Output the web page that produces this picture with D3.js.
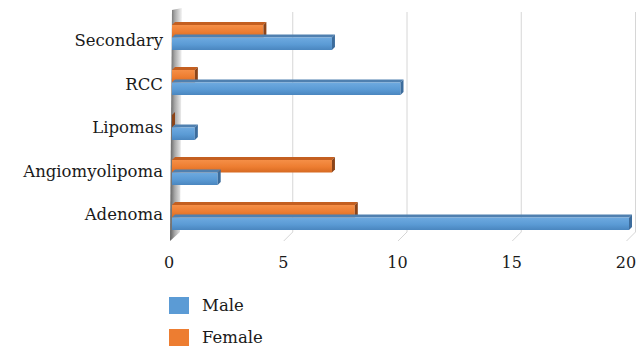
<!DOCTYPE html>
<html>
<head>
<meta charset="utf-8">
<script src="https://cdn.jsdelivr.net/npm/d3@7/dist/d3.min.js"></script>
<style>
  html, body { margin: 0; padding: 0; background: #fff; }
  svg { display: block; }
</style>
</head>
<body>
<svg id="chart" width="643" height="346"></svg>
<script>
// Tumour types, top to bottom as listed on the axis
const categories = ["Secondary", "RCC", "Lipomas", "Angiomyolipoma", "Adenoma"];
const seriesNames = ["Female", "Male"];
const maleValues = [7, 10, 1, 2, 20];
const femaleValues = [4, 1, 0, 7, 8];
const tickValues = [0, 5, 10, 15, 20];
const legendItems = ["Male", "Female"];

const serif = "'DejaVu Serif', serif";

const colors = {
  Male: { front: ["#6eaae0", "#5b9bd5", "#4a86bf"], top: "#4f80b0", side: "#3c6c9c", swatch: "#5b9bd5" },
  Female: { front: ["#f58f47", "#ed7d31", "#d66a22"], top: "#c45f20", side: "#8c4418", swatch: "#ed7d31" }
};

const rows = categories.map((c, i) => ({ category: c, Male: maleValues[i], Female: femaleValues[i] }));

const svg = d3.select("#chart");
const defs = svg.append("defs");

// 3D look: depth offset of the bars and the back wall
const depth = 3;
const backDx = 6.5, backTop = 12, backBottom = 232, floorDx = -9, floorDy = 9;

const x = d3.scaleLinear().domain([0, 20]).range([172, 629]);
const y = d3.scaleBand().domain(categories).range([15, 240]);
const inner = d3.scaleBand().domain(seriesNames).range([y.bandwidth() / 2 - 12.5, y.bandwidth() / 2 + 12.5]);
const labelY = d3.scalePoint().domain(categories).range([46, 220]);

// gradients for the bar fronts
seriesNames.forEach(s => {
  const g = defs.append("linearGradient").attr("id", "grad-" + s).attr("x1", 0).attr("y1", 0).attr("x2", 0).attr("y2", 1);
  g.append("stop").attr("offset", "0%").attr("stop-color", colors[s].front[0]);
  g.append("stop").attr("offset", "55%").attr("stop-color", colors[s].front[1]);
  g.append("stop").attr("offset", "100%").attr("stop-color", colors[s].front[2]);
});
const wallGrad = defs.append("linearGradient").attr("id", "wall").attr("x1", 0).attr("y1", 0).attr("x2", 1).attr("y2", 0);
wallGrad.append("stop").attr("offset", "0%").attr("stop-color", "#5e5e5e");
wallGrad.append("stop").attr("offset", "40%").attr("stop-color", "#a8a8a8");
wallGrad.append("stop").attr("offset", "100%").attr("stop-color", "#f4f4f4");

// back-wall gridlines with their slanted floor edges
const grid = svg.append("g");
tickValues.filter(v => v > 0).forEach(v => {
  const bx = x(v) + backDx;
  grid.append("path")
    .attr("d", `M${bx},${backTop}L${bx},${backBottom}L${bx + floorDx},${backBottom + floorDy}`)
    .attr("fill", "none").attr("stroke", "#d6d6d6").attr("stroke-width", 1);
});

// side wall on the left
svg.append("path")
  .attr("d", `M${x(0)},${backTop - 2}L${x(0) + 10},${backTop - 4}L${x(0) + 8},${backBottom}L${x(0) - 2},${backBottom + floorDy}Z`)
  .attr("fill", "url(#wall)");

// bars: front face, top face and end cap
const bars = svg.append("g");
rows.forEach(r => {
  seriesNames.forEach(s => {
    const x0 = x(0), xe = x(r[s]);
    const yt = y(r.category) + inner(s), h = inner.bandwidth();
    const g = bars.append("g");
    g.append("path")
      .attr("d", `M${x0},${yt}L${x0 + depth},${yt - depth}L${xe + depth},${yt - depth}L${xe},${yt}Z`)
      .attr("fill", colors[s].top);
    g.append("rect")
      .attr("x", x0).attr("y", yt).attr("width", xe - x0).attr("height", h)
      .attr("fill", `url(#grad-${s})`);
    g.append("path")
      .attr("d", `M${xe},${yt}L${xe + depth},${yt - depth}L${xe + depth},${yt + h - depth}L${xe},${yt + h}Z`)
      .attr("fill", colors[s].side);
  });
});

// category labels
svg.append("g").selectAll("text").data(categories).join("text")
  .attr("x", 163).attr("y", d => labelY(d))
  .attr("text-anchor", "end").attr("font-size", 16.5)
  .attr("font-family", serif).attr("fill", "#1a1a1a")
  .text(d => d);

// value axis labels along the front floor edge
svg.append("g").selectAll("text").data(tickValues).join("text")
  .attr("x", d => x(d) - 3).attr("y", 268)
  .attr("text-anchor", "middle").attr("font-size", 16)
  .attr("font-family", serif).attr("fill", "#1a1a1a")
  .text(d => d);

// legend
const legend = svg.append("g");
legendItems.forEach((name, i) => {
  const ly = 297 + i * 32;
  legend.append("rect").attr("x", 169).attr("y", ly).attr("width", 20).attr("height", 17)
    .attr("fill", colors[name].swatch);
  legend.append("text").attr("x", 202).attr("y", ly + 14).attr("font-size", 16.5)
    .attr("font-family", serif).attr("fill", "#1a1a1a").text(name);
});
</script>
</body>
</html>
